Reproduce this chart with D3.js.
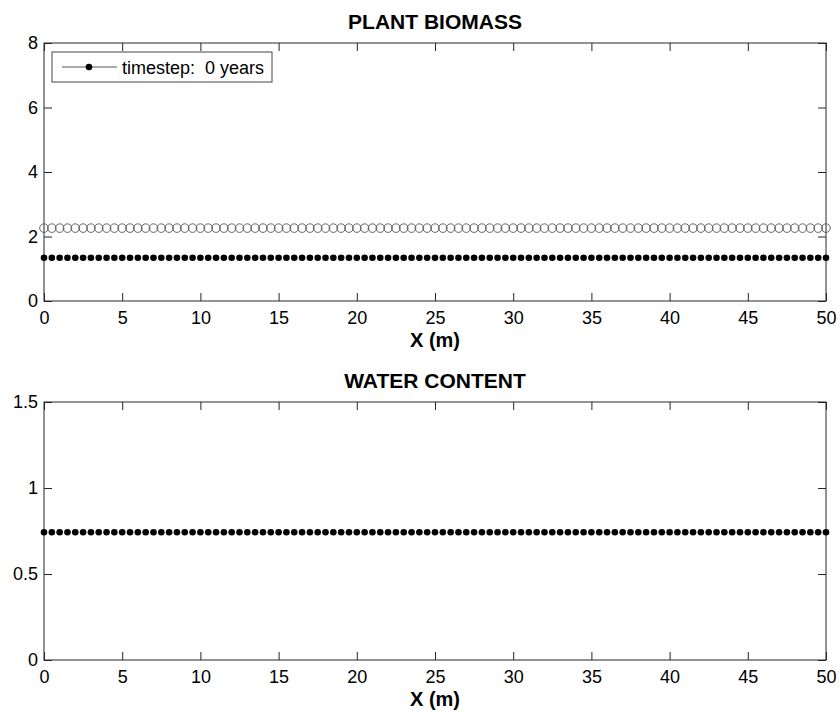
<!DOCTYPE html>
<html>
<head>
<meta charset="utf-8">
<script src="https://cdn.jsdelivr.net/npm/d3@7"></script>
<style>
	body { margin: 0; background: #fff; }
	text { font-family: "Liberation Sans", Arial, sans-serif; }
</style>
</head>
<body>
<svg id="chart" width="840" height="712"></svg>
<script>
// positions along the transect (m), every 0.5 m
const xs = d3.range(0, 101).map(i => i / 2);

// values at timestep 0 (flat profiles)
const biomassFilled = xs.map(() => 1.34);
const biomassOpen = xs.map(() => 2.26);
const waterFilled = xs.map(() => 0.743);

const xTicks = [0, 5, 10, 15, 20, 25, 30, 35, 40, 45, 50];
const biomassTicks = [0, 2, 4, 6, 8];
const waterTicks = [0, 0.5, 1, 1.5];
const legendLabel = "timestep:  0 years";

const svg = d3.select("#chart");
const left = 44, right = 826;

function drawPanel(opts) {
	const g = svg.append("g");
	const x = d3.scaleLinear().domain([0, 50]).range([left, right]);
	const y = d3.scaleLinear().domain(opts.yDomain).range([opts.bottom, opts.top]);
	const tick = 8;

	// ticks inside the box on all four sides
	g.append("g")
		.attr("transform", `translate(0,${opts.bottom})`)
		.call(d3.axisBottom(x).tickValues(xTicks).tickSize(-tick).tickPadding(10).tickFormat(d3.format("d")))
		.call(a => a.select(".domain").remove());
	g.append("g")
		.attr("transform", `translate(0,${opts.top})`)
		.call(d3.axisTop(x).tickValues(xTicks).tickSize(-tick).tickFormat(""))
		.call(a => a.select(".domain").remove());
	g.append("g")
		.attr("transform", `translate(${left},0)`)
		.call(d3.axisLeft(y).tickValues(opts.yTicks).tickSize(-tick).tickPadding(6).tickFormat(d => d))
		.call(a => a.select(".domain").remove());
	g.append("g")
		.attr("transform", `translate(${right},0)`)
		.call(d3.axisRight(y).tickValues(opts.yTicks).tickSize(-tick).tickFormat(""))
		.call(a => a.select(".domain").remove());

	g.selectAll(".tick line").attr("stroke", "#262626");
	g.selectAll(".tick text").attr("font-size", 18).attr("fill", "#000")
		.attr("font-family", "'Liberation Sans', Arial, sans-serif");

	g.append("rect")
		.attr("x", left).attr("y", opts.top)
		.attr("width", right - left).attr("height", opts.bottom - opts.top)
		.attr("fill", "none").attr("stroke", "#262626").attr("stroke-width", 1);

	if (opts.open) {
		g.selectAll("circle.open").data(opts.open).join("circle")
			.attr("class", "open")
			.attr("cx", (d, i) => x(xs[i]))
			.attr("cy", d => y(d))
			.attr("r", 4.3)
			.attr("fill", "none")
			.attr("stroke", "#555")
			.attr("stroke-width", 0.9);
	}
	g.selectAll("circle.filled").data(opts.filled).join("circle")
		.attr("class", "filled")
		.attr("cx", (d, i) => x(xs[i]))
		.attr("cy", d => y(d))
		.attr("r", 3.3)
		.attr("fill", "#000");

	g.append("text")
		.attr("x", (left + right) / 2).attr("y", opts.top - 14)
		.attr("text-anchor", "middle")
		.attr("font-size", 21).attr("font-weight", "bold")
		.text(opts.title);

	g.append("text")
		.attr("x", (left + right) / 2).attr("y", opts.bottom + 46)
		.attr("text-anchor", "middle")
		.attr("font-size", 20).attr("font-weight", "bold")
		.text("X (m)");

	return g;
}

const biomassPanel = drawPanel({
	top: 43, bottom: 301, yDomain: [0, 8], yTicks: biomassTicks,
	filled: biomassFilled, open: biomassOpen, title: "PLANT BIOMASS"
});

drawPanel({
	top: 402, bottom: 660, yDomain: [0, 1.5], yTicks: waterTicks,
	filled: waterFilled, title: "WATER CONTENT"
});

// legend
const legend = biomassPanel.append("g").attr("transform", "translate(52,52)");
legend.append("rect")
	.attr("width", 220).attr("height", 30)
	.attr("fill", "#fff").attr("stroke", "#444");
legend.append("line")
	.attr("x1", 10).attr("x2", 65).attr("y1", 15).attr("y2", 15)
	.attr("stroke", "#555");
legend.append("circle").attr("cx", 37).attr("cy", 15).attr("r", 3.3).attr("fill", "#000");
legend.append("text")
	.attr("x", 70).attr("y", 21.5)
	.attr("font-size", 18)
	.style("white-space", "pre")
	.text(legendLabel);
</script>
</body>
</html>
